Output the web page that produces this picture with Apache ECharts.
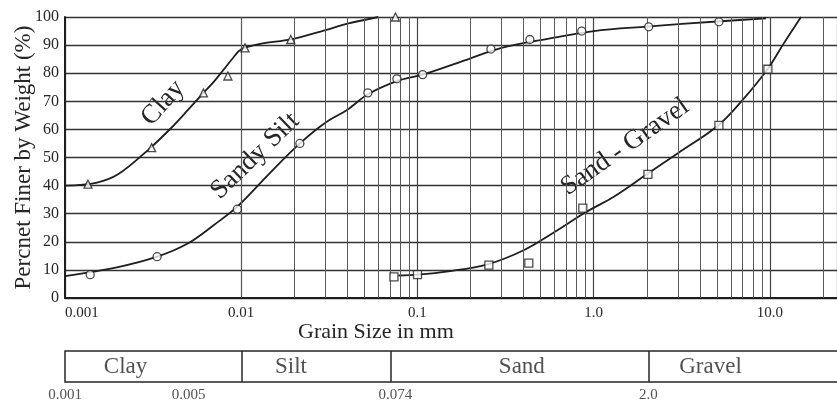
<!DOCTYPE html>
<html><head><meta charset="utf-8">
<script src="https://cdn.jsdelivr.net/npm/echarts@6/dist/echarts.min.js"></script>
<style>html,body{margin:0;padding:0;background:#fff}#c{width:837px;height:408px}</style>
</head><body><div id="c"></div>
<script>
// ---- axis ticks ----
const xTickValues = [0.001, 0.01, 0.1, 1, 10];
const xTickLabels = ['0.001', '0.01', '0.1', '1.0', '10.0'];
const minorGridX = [0.002,0.003,0.004,0.005,0.006,0.007,0.008,0.009,
  0.02,0.03,0.04,0.05,0.06,0.07,0.08,0.09,
  0.2,0.3,0.4,0.5,0.6,0.7,0.8,0.9,
  2,3,4,5,6,7,8,9,20];

// ---- Clay ----
const clayPtsX = [0.00135, 0.0031, 0.0061, 0.0084, 0.0105, 0.0191, 0.075];
const clayPtsY = [40.5, 53.5, 73, 79, 89, 92, 100];
const clayCurveX = [0.001, 0.0015, 0.002, 0.003, 0.004, 0.005, 0.006, 0.007, 0.008, 0.009, 0.01, 0.013, 0.0191, 0.03, 0.04, 0.06];
const clayCurveY = [40, 41, 44, 53, 60.5, 67, 72.5, 77, 81.5, 85.5, 88.5, 90.5, 92, 95.3, 97.6, 100];

// ---- Sandy Silt ----
const siltPtsX = [0.00139, 0.00333, 0.0095, 0.0215, 0.0523, 0.0764, 0.107, 0.261, 0.434, 0.855, 2.05, 5.13];
const siltPtsY = [8.3, 14.7, 31.6, 55, 73, 78, 79.5, 88.6, 92, 95, 96.5, 98.3];
const siltCurveX = [0.001, 0.002, 0.00333, 0.005, 0.007, 0.0095, 0.0143, 0.0215, 0.03, 0.04, 0.0523, 0.0764, 0.107, 0.2, 0.3, 0.5, 1, 2, 5, 9.5];
const siltCurveY = [7.8, 11, 14.7, 19.5, 26, 32.5, 44, 55, 62.4, 67, 72.5, 77.2, 79.5, 85.3, 89, 91.8, 95, 96.6, 98.4, 99.5];

// ---- Sand - Gravel ----
const sgPtsX = [0.0735, 0.1, 0.254, 0.428, 0.867, 2.03, 5.13, 9.73];
const sgPtsY = [7.5, 8.3, 11.7, 12.4, 32, 44, 61.4, 81.4];
const sgCurveX = [0.078, 0.1, 0.15, 0.25, 0.4, 0.6, 0.9, 1.3, 2.0, 3.0, 5.1, 7.0, 9.7, 12, 15];
const sgCurveY = [8, 8.3, 9.5, 12, 17, 23.5, 30.5, 36, 44, 51.5, 61.5, 70.5, 81.5, 90.7, 100];

// ---- Soil classification strip ----
const classNames = ['Clay', 'Silt', 'Sand', 'Gravel'];
const classLabelAt = [0.0022, 0.019, 0.385, 4.5];
const classBounds = [0.001, 0.005, 0.074, 2.0];
const classBoundLabels = ['0.001', '0.005', '0.074', '2.0'];
const innerBounds = [0.005, 0.074, 2.0];

const FONT = 'Liberation Serif';
const INK = '#1e1e1e';
const TXT = '#262626';
const zip = (a, b) => a.map((v, i) => [v, b[i]]);

const chart = echarts.init(document.getElementById('c'), null, {renderer: 'canvas'});

function lineSeries(xs, ys) {
  return {type: 'line', xAxisIndex: 0, yAxisIndex: 0, data: zip(xs, ys), smooth: 0.35,
    showSymbol: false, lineStyle: {color: INK, width: 1.8}, z: 4, silent: true};
}
function ptSeries(xs, ys, sym) {
  return {type: 'scatter', xAxisIndex: 0, yAxisIndex: 0, data: zip(xs, ys), symbol: sym, symbolSize: 8,
    itemStyle: {color: '#fff', borderColor: INK, borderWidth: 1.3}, z: 5, silent: true};
}

chart.setOption({
  animation: false,
  backgroundColor: '#fff',
  grid: [
    {left: 65, right: 0, top: 17, height: 281, outerBoundsMode: 'none', containLabel: false},
    {left: 65, right: -2, top: 351, height: 31, show: true, borderColor: TXT, borderWidth: 1.5,
      backgroundColor: 'transparent', outerBoundsMode: 'none', containLabel: false}
  ],
  xAxis: [
    {type: 'log', logBase: 10, gridIndex: 0, min: 0.001, max: 24,
      axisLine: {show: true, onZero: false, lineStyle: {color: INK, width: 2}},
      axisTick: {show: false},
      axisLabel: {show: true, fontFamily: FONT, fontSize: 15, color: TXT, margin: 8, alignMinLabel: 'left',
        formatter: function (v) {
          const i = xTickValues.findIndex(t => Math.abs(Math.log10(t) - Math.log10(v)) < 1e-6);
          return i >= 0 ? xTickLabels[i] : '';
        }},
      splitLine: {show: true, lineStyle: {color: '#444', width: 1.2}}
    },
    {type: 'log', logBase: 10, gridIndex: 1, min: 0.001, max: 24, show: false}
  ],
  yAxis: [
    {type: 'value', gridIndex: 0, min: 0, max: 100, interval: 10,
      name: 'Percnet Finer by Weight (%)', nameLocation: 'middle', nameGap: 30, nameMoveOverlap: false,
      nameTextStyle: {fontFamily: FONT, fontSize: 23, color: TXT},
      axisLine: {show: true, lineStyle: {color: INK, width: 2}},
      axisTick: {show: false},
      axisLabel: {fontFamily: FONT, fontSize: 16, color: TXT, margin: 6},
      splitLine: {show: true, lineStyle: {color: '#333', width: 1.4}}
    },
    {type: 'value', gridIndex: 1, min: 0, max: 1, show: false}
  ],
  graphic: [
    {type: 'text', left: 298, top: 321, style: {text: 'Grain Size in mm', font: '22px "Liberation Serif"', fill: TXT}},
    {type: 'text', x: 163, y: 103, rotation: 48 * Math.PI / 180,
      style: {text: 'Clay', font: '27px "Liberation Serif"', fill: TXT, align: 'center', verticalAlign: 'middle'}},
    {type: 'text', x: 255, y: 156, rotation: 44 * Math.PI / 180,
      style: {text: 'Sandy Silt', font: '27px "Liberation Serif"', fill: TXT, align: 'center', verticalAlign: 'middle'}},
    {type: 'text', x: 625, y: 147, rotation: 35 * Math.PI / 180,
      style: {text: 'Sand - Gravel', font: '27px "Liberation Serif"', fill: TXT, align: 'center', verticalAlign: 'middle'}}
  ],
  series: [
    {type: 'line', xAxisIndex: 0, yAxisIndex: 0, data: [], z: 1, silent: true,
      markLine: {silent: true, symbol: ['none', 'none'], label: {show: false}, animation: false,
        lineStyle: {color: '#5a5a5a', width: 1, type: 'solid'},
        data: minorGridX.map(v => ({xAxis: v}))}},
    lineSeries(clayCurveX, clayCurveY),
    ptSeries(clayPtsX, clayPtsY, 'triangle'),
    lineSeries(siltCurveX, siltCurveY),
    ptSeries(siltPtsX, siltPtsY, 'circle'),
    lineSeries(sgCurveX, sgCurveY),
    ptSeries(sgPtsX, sgPtsY, 'rect'),
    {type: 'line', xAxisIndex: 1, yAxisIndex: 1, data: [], silent: true,
      markLine: {silent: true, symbol: ['none', 'none'], label: {show: false}, animation: false,
        lineStyle: {color: TXT, width: 1.5, type: 'solid'},
        data: innerBounds.map(v => ({xAxis: v}))}},
    {type: 'scatter', xAxisIndex: 1, yAxisIndex: 1, symbolSize: 0, silent: true,
      data: classLabelAt.map((v, i) => ({value: [v, 0.5], name: classNames[i]})),
      label: {show: true, position: 'inside', formatter: p => p.name, fontFamily: FONT, fontSize: 23, color: TXT}},
    {type: 'scatter', xAxisIndex: 1, yAxisIndex: 1, symbolSize: 0, silent: true,
      data: classBounds.map((v, i) => ({value: [v, 0], name: classBoundLabels[i]})),
      label: {show: true, position: 'bottom', distance: 6, formatter: p => p.name, fontFamily: FONT, fontSize: 15, color: TXT}}
  ]
});
</script>
</body></html>
